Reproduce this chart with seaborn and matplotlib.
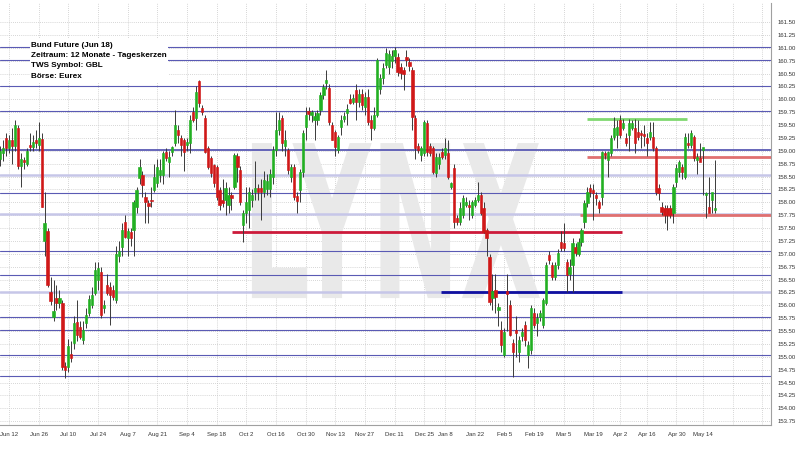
import numpy as np
import pandas as pd
import matplotlib
matplotlib.use("Agg")
import matplotlib.pyplot as plt
import seaborn as sns
from matplotlib.textpath import TextPath
from matplotlib.patches import PathPatch, Rectangle
from matplotlib.font_manager import FontProperties
from matplotlib.transforms import Affine2D

# daily candles, Bund Future (Jun 18)
opens = [
    158.9, 158.85, 158.95, 159.25, 159.05, 159.2, 159.1, 159.45, 158.7, 158.82,
    158.75, 159.12, 159.08, 159.2, 159.12, 159.23, 157.25, 157.45, 156.25, 155.78,
    156.15, 156.05, 156.05, 154.82, 154.8, 155.05, 155.27, 155.68, 155.58, 155.33,
    155.66, 155.85, 156.0, 156.24, 156.5, 156.65, 155.95, 156.39, 156.35, 156.3,
    156.1, 156.95, 157.13, 157.62, 157.3, 157.42, 157.46, 157.9, 158.47, 158.53,
    158.1, 157.98, 158.05, 158.24, 158.37, 158.53, 158.53, 158.98, 158.78, 158.98,
    159.15, 159.4, 159.25, 159.2, 159.11, 159.15, 159.75, 159.64, 160.35, 159.83,
    159.64, 159.05, 158.86, 158.72, 158.68, 158.24, 158.05, 158.04, 157.95, 158.15,
    158.3, 158.9, 158.63, 157.56, 157.79, 157.85, 158.04, 158.2, 158.28, 158.28,
    158.2, 158.25, 158.25, 158.49, 159.01, 159.4, 159.64, 159.1, 159.01, 158.5,
    158.68, 158.12, 158.24, 158.59, 159.46, 159.78, 159.7, 159.6, 159.6, 159.79,
    160.08, 160.32, 160.22, 159.5, 159.36, 159.01, 159.46, 159.62, 159.73, 160.0,
    159.95, 160.18, 159.95, 160.1, 159.85, 160.05, 159.6, 159.45, 159.69, 160.2,
    160.42, 160.67, 160.62, 160.75, 160.85, 160.82, 160.62, 160.57, 160.82, 160.72,
    160.57, 159.64, 159.1, 158.92, 158.96, 159.54, 159.1, 159.05, 158.57, 158.75,
    158.98, 158.92, 158.96, 158.3, 158.67, 157.7, 157.62, 157.75, 157.95, 157.95,
    157.75, 157.95, 158.05, 158.14, 157.89, 157.46, 156.94, 156.15, 156.3, 155.91,
    155.52, 155.03, 156.28, 156.01, 155.27, 155.52, 155.1, 155.4, 155.62, 155.03,
    155.13, 155.85, 155.65, 155.78, 155.62, 156.04, 156.97, 156.78, 156.55, 156.78,
    157.23, 157.2, 156.84, 156.6, 156.78, 157.13, 157.0, 157.23, 157.62, 157.99,
    158.28, 158.24, 158.14, 158.0, 158.1, 158.96, 158.82, 158.96, 159.27, 159.31,
    159.6, 159.44, 159.25, 159.31, 159.44, 159.44, 159.36, 159.35, 159.33, 159.25,
    159.27, 159.27, 159.05, 158.28, 157.91, 157.89, 157.89, 157.89, 157.79, 158.39,
    158.59, 158.69, 158.49, 159.15, 159.11, 159.27, 158.82, 158.86, 159.01, 158.14,
    157.91, 158.04, 157.85,
]
highs = [
    159.1, 159.1, 159.2, 159.35, 159.3, 159.45, 159.6, 159.5, 158.95, 158.88,
    159.05, 159.35, 159.3, 159.4, 159.55, 159.35, 158.2, 157.5, 156.55, 156.5,
    156.4, 156.3, 156.1, 154.9, 155.35, 155.3, 155.8, 156.1, 155.7, 155.7,
    155.95, 156.2, 156.35, 156.85, 156.85, 156.75, 156.1, 156.6, 156.45, 156.4,
    157.15, 157.25, 157.6, 157.75, 157.5, 157.5, 158.05, 158.3, 158.85, 158.6,
    158.2, 158.05, 158.3, 158.75, 158.85, 158.85, 159.0, 159.05, 159.0, 159.1,
    159.8, 159.5, 159.3, 159.25, 159.25, 159.7, 159.85, 160.25, 160.38, 159.88,
    159.7, 159.1, 158.9, 158.75, 158.72, 158.3, 158.45, 158.4, 158.3, 158.2,
    158.95, 158.95, 158.7, 157.85, 158.3, 158.3, 158.25, 158.8, 158.35, 158.45,
    158.6, 158.55, 158.65, 159.1, 159.75, 159.75, 159.7, 159.4, 159.05, 158.75,
    158.75, 158.2, 158.65, 159.4, 159.85, 159.85, 159.8, 159.75, 159.8, 160.15,
    160.3, 160.57, 160.3, 159.55, 159.4, 159.3, 159.7, 159.75, 159.9, 160.1,
    160.1, 160.3, 160.2, 160.2, 160.15, 160.2, 159.7, 159.85, 160.8, 160.5,
    160.7, 161.0, 160.95, 160.95, 161.01, 160.9, 160.7, 160.62, 160.96, 160.8,
    160.62, 159.7, 159.15, 159.1, 159.6, 159.6, 159.15, 159.1, 158.95, 158.95,
    159.05, 159.25, 159.2, 158.4, 158.75, 157.75, 158.0, 158.15, 158.1, 158.05,
    158.05, 158.1, 158.4, 158.2, 158.0, 157.5, 157.0, 156.6, 156.6, 156.05,
    155.7, 155.55, 156.6, 156.1, 155.35, 155.8, 155.4, 155.55, 155.7, 155.3,
    156.0, 155.95, 155.85, 155.9, 156.15, 156.85, 157.05, 156.85, 156.85, 157.1,
    157.45, 157.6, 156.9, 156.9, 157.3, 157.2, 157.3, 157.5, 158.05, 158.3,
    158.35, 158.35, 158.2, 158.05, 159.0, 159.0, 159.0, 159.3, 159.65, 159.6,
    159.7, 159.62, 159.35, 159.62, 159.6, 159.62, 159.6, 159.4, 159.5, 159.35,
    159.55, 159.55, 159.1, 158.35, 158.0, 157.95, 157.95, 157.95, 158.35, 158.75,
    158.82, 158.75, 159.35, 159.35, 159.4, 159.3, 158.95, 159.15, 159.05, 158.2,
    158.5, 158.1, 158.82,
]
lows = [
    158.8, 158.7, 158.8, 158.9, 158.95, 158.75, 159.0, 158.65, 158.3, 158.65,
    158.7, 159.0, 159.0, 159.05, 159.0, 157.9, 156.95, 156.35, 156.0, 155.7,
    155.9, 155.95, 154.75, 154.58, 154.7, 154.9, 155.15, 155.3, 155.35, 155.25,
    155.55, 155.8, 155.95, 156.2, 156.3, 155.75, 155.85, 156.2, 155.62, 156.1,
    156.05, 156.85, 156.95, 157.3, 156.95, 157.15, 156.95, 157.8, 158.35, 158.1,
    157.6, 157.6, 157.9, 158.2, 158.3, 158.4, 158.35, 158.8, 158.5, 158.9,
    159.1, 159.15, 158.9, 158.6, 159.0, 158.95, 159.55, 159.4, 159.85, 159.7,
    158.95, 158.65, 158.5, 158.3, 158.05, 157.85, 157.9, 157.75, 157.8, 157.85,
    158.25, 158.4, 157.95, 157.23, 157.6, 157.5, 157.9, 158.05, 158.05, 157.66,
    158.1, 158.15, 158.1, 158.35, 158.9, 159.3, 159.0, 158.9, 158.55, 158.4,
    158.05, 157.79, 158.0, 158.5, 159.2, 159.6, 159.55, 159.2, 159.5, 159.7,
    160.0, 160.2, 159.5, 159.2, 158.9, 158.95, 159.3, 159.55, 159.5, 159.9,
    159.9, 159.6, 159.85, 159.8, 159.7, 159.5, 159.2, 159.4, 159.65, 160.1,
    160.3, 160.6, 160.5, 160.6, 160.7, 160.45, 160.4, 160.18, 160.65, 160.55,
    159.4, 158.85, 158.95, 158.8, 158.9, 158.9, 158.9, 158.55, 158.5, 158.65,
    158.85, 158.85, 158.45, 158.25, 157.5, 157.55, 157.55, 157.7, 157.9, 157.65,
    157.7, 157.9, 158.0, 157.75, 157.4, 156.95, 156.0, 155.9, 155.85, 155.6,
    155.1, 155.0, 155.5, 155.4, 154.6, 155.0, 154.9, 155.3, 155.2, 154.78,
    155.05, 155.55, 155.4, 155.7, 155.55, 156.0, 156.8, 156.5, 156.5, 156.7,
    157.05, 157.05, 156.26, 156.5, 156.26, 156.95, 156.95, 157.15, 157.5, 157.9,
    158.1, 157.66, 157.95, 157.8, 157.95, 158.85, 158.5, 158.9, 159.2, 159.05,
    159.25, 159.4, 159.1, 159.0, 159.4, 158.95, 159.2, 159.05, 159.1, 158.9,
    159.2, 159.0, 158.15, 158.05, 157.75, 157.6, 157.46, 157.7, 157.6, 158.3,
    158.5, 158.45, 158.45, 159.05, 159.05, 158.8, 158.55, 158.8, 158.15, 157.7,
    157.85, 157.8, 157.8,
]
closes = [
    159.0, 159.0, 159.05, 159.05, 159.2, 159.1, 159.5, 158.7, 158.85, 158.78,
    159.0, 159.08, 159.18, 159.15, 159.25, 157.9, 157.6, 156.4, 156.08, 155.88,
    156.05, 156.15, 154.8, 154.75, 155.2, 154.98, 155.66, 155.42, 155.38, 155.52,
    155.81, 156.12, 156.2, 156.68, 156.72, 155.82, 156.0, 156.24, 156.2, 156.16,
    157.0, 157.05, 157.46, 157.33, 157.45, 157.3, 158.0, 158.24, 158.68, 158.33,
    158.0, 157.92, 158.02, 158.49, 158.68, 158.62, 158.96, 158.86, 158.88, 159.07,
    159.5, 159.3, 159.11, 158.98, 159.18, 159.6, 159.6, 160.14, 159.93, 159.75,
    158.98, 158.69, 158.57, 158.37, 158.1, 157.95, 157.98, 158.28, 158.15, 158.08,
    158.92, 158.69, 158.0, 157.79, 158.0, 158.2, 158.14, 158.28, 158.2, 158.2,
    158.43, 158.42, 158.55, 159.01, 159.4, 159.6, 159.15, 159.2, 158.63, 158.68,
    158.1, 158.02, 158.59, 159.34, 159.69, 159.72, 159.75, 159.68, 159.73, 160.08,
    160.24, 160.37, 159.56, 159.21, 159.07, 159.27, 159.6, 159.68, 159.82, 159.92,
    160.02, 159.95, 160.1, 159.88, 160.05, 159.55, 159.45, 159.7, 160.76, 160.42,
    160.6, 160.9, 160.88, 160.85, 160.95, 160.53, 160.52, 160.5, 160.76, 160.65,
    159.66, 159.05, 159.02, 159.05, 159.56, 158.98, 158.96, 158.59, 158.88, 158.88,
    158.88, 159.05, 158.49, 158.37, 157.62, 157.62, 157.89, 158.08, 158.0, 157.91,
    158.0, 158.05, 158.15, 157.79, 157.42, 157.31, 156.06, 156.28, 156.16, 155.97,
    155.23, 155.48, 156.22, 155.42, 155.1, 155.47, 155.33, 155.48, 155.33, 155.23,
    155.95, 155.62, 155.75, 155.85, 156.1, 156.78, 156.88, 156.55, 156.78, 157.01,
    157.11, 157.12, 156.59, 156.75, 157.21, 157.01, 157.23, 157.46, 157.99, 158.2,
    158.2, 158.18, 158.08, 157.89, 158.98, 158.92, 158.98, 159.25, 159.44, 159.46,
    159.31, 159.54, 159.15, 159.54, 159.54, 159.15, 159.27, 159.31, 159.28, 159.15,
    159.36, 159.05, 158.2, 158.18, 157.81, 157.75, 157.75, 157.75, 158.3, 158.67,
    158.78, 158.59, 159.27, 159.11, 159.35, 158.86, 158.88, 158.78, 159.07, 158.18,
    157.79, 158.2, 157.89,
]

# two-weekly date ticks (last two are unlabeled future ticks)
tick_dates = ["2017-06-12", "2017-06-26", "2017-07-10", "2017-07-24", "2017-08-07",
              "2017-08-21", "2017-09-04", "2017-09-18", "2017-10-02", "2017-10-16",
              "2017-10-30", "2017-11-13", "2017-11-27", "2017-12-11", "2017-12-25",
              "2018-01-08", "2018-01-22", "2018-02-05", "2018-02-19", "2018-03-05",
              "2018-03-19", "2018-04-02", "2018-04-16", "2018-04-30", "2018-05-14",
              "2018-05-28", "2018-06-11"]
tick_labels = ["Jun 12", "Jun 26", "Jul 10", "Jul 24", "Aug 7", "Aug 21", "Sep 4",
               "Sep 18", "Oct 2", "Oct 16", "Oct 30", "Nov 13", "Nov 27", "Dec 11",
               "Dec 25", "Jan 8", "Jan 22", "Feb 5", "Feb 19", "Mar 5", "Mar 19",
               "Apr 2", "Apr 16", "Apr 30", "May 14", "", ""]
holidays = ["2017-12-25", "2017-12-26", "2018-01-01", "2018-03-30", "2018-04-02", "2018-05-01"]

# drawn horizontal levels
navy_levels = [161.01, 160.76, 160.26, 159.77, 159.01, 158.18, 157.05, 156.59,
               155.77, 155.52, 155.03, 154.63]
light_levels = [158.53, 157.77, 156.25]
# segments: (price, start index, end index, color)
segments = [
    (157.42, 79.2, 210.7, "#cc1a3a"),
    (156.26, 149.6, 210.7, "#1010a0"),
    (159.62, 198.9, 232.6, "#80d870"),
    (158.87, 198.9, 262.0, "#e07070"),
    (157.76, 196.5, 262.0, "#e07070"),
]

info_lines = ["Bund Future (Jun 18)", "Zeitraum: 12 Monate - Tageskerzen",
              "TWS Symbol: GBL", "Börse: Eurex"]

# trading calendar
days = pd.bdate_range("2017-06-06", "2018-06-29")
days = days[~days.isin(pd.to_datetime(holidays))]
df = pd.DataFrame({"open": opens, "high": highs, "low": lows, "close": closes})
df["date"] = days[:len(df)]
df["i"] = np.arange(len(df))
df["up"] = df["close"] >= df["open"]
tick_pos = [int(np.searchsorted(days, pd.Timestamp(d))) for d in tick_dates]

sns.set_theme(style="white")
plt.rcParams["font.family"] = ["Liberation Sans", "DejaVu Sans"]

fig = plt.figure(figsize=(8, 4.5), dpi=100)
ax = fig.add_axes([0, 25 / 450, 771 / 800, 422 / 450])
ax.set_facecolor("white")
ax.set_xlim(0.96, 260.9)
ax.set_ylim(153.675, 161.87)

# dotted grid
yt = np.arange(153.75, 161.51, 0.25)
for y in yt:
    ax.axhline(y, color="#c8c8c8", lw=0.6, ls=(0, (1, 1.5)), zorder=0)
for p in tick_pos:
    ax.axvline(p, color="#c8c8c8", lw=0.6, ls=(0, (1, 1.5)), zorder=0)

# LYNX watermark
tp = TextPath((0, 0), "LYNX", size=1, prop=FontProperties(family="DejaVu Sans", weight="bold"))
ext = tp.get_extents()
x0, x1 = 85.9, 183.0
y0, y1 = 156.14, 159.15
tr = Affine2D().translate(-ext.x0, -ext.y0).scale((x1 - x0) / ext.width, (y1 - y0) / ext.height).translate(x0, y0)
ax.add_patch(PathPatch(tr.transform_path(tp), facecolor="#e9e9e9", edgecolor="none", zorder=0.5))

# levels
for lv in navy_levels:
    ax.axhline(lv, color="#5a5ab4", lw=1.3 if lv == 159.01 else 0.8, zorder=1)
for lv in light_levels:
    ax.axhline(lv, color="#c6c6e8", lw=1.8, zorder=1)
for price, a, b, c in segments:
    ax.plot([a, b], [price, price], color=c, lw=2.0, zorder=2, solid_capstyle="butt")

# candles
ax.vlines(df["i"], df["low"], df["high"], color="#3a3a3a", lw=0.7, zorder=3)
body_lo = df[["open", "close"]].min(axis=1)
body_h = (df["close"] - df["open"]).abs().clip(lower=0.03)
colors = np.where(df["up"], "#22b022", "#d01818")
ax.bar(df["i"], body_h, bottom=body_lo, width=0.75, color=colors, edgecolor=colors,
       linewidth=0.45, zorder=4)

# info box
ax.add_patch(Rectangle((30 / 800, 1 - 82 / 450), 138 / 800, 43 / 450, transform=fig.transFigure,
                       facecolor="white", edgecolor="none", zorder=5))
for k, line in enumerate(info_lines):
    fig.text(31 / 800, 1 - (45.5 + k * 10.2) / 450, line, fontsize=5.9, fontweight="bold",
             color="black", va="center", ha="left", zorder=6)

# axes
ax.yaxis.tick_right()
ax.set_yticks(yt)
ax.set_yticklabels([f"{v:.2f}" for v in yt])
ax.set_xticks(tick_pos)
ax.set_xticklabels(tick_labels)
ax.tick_params(axis="y", labelsize=4.3, labelcolor="#333333", length=3, width=0.5, color="#999999", pad=1.5)
ax.tick_params(axis="x", labelsize=4.3, labelcolor="#333333", length=3, width=0.5, color="#999999", pad=2)
sns.despine(ax=ax, left=True, top=True, right=False, bottom=False)
for s in ["right", "bottom"]:
    ax.spines[s].set_color("#a0a0a0")
    ax.spines[s].set_linewidth(0.8)
ax.grid(False)

fig.savefig("out.png", dpi=100, facecolor="white")
